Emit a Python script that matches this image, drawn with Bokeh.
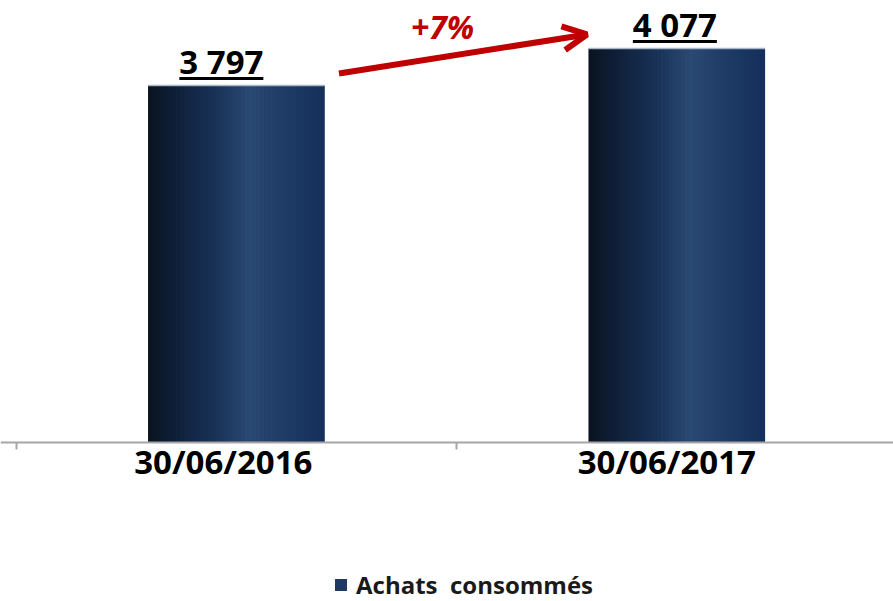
from bokeh.plotting import figure
from bokeh.models import Range1d, FixedTicker, Arrow, OpenHead, Legend, LegendItem
from bokeh.core.properties import value
from bokeh.embed import file_html
from bokeh.resources import INLINE

# ---- data ----
categories = ["30/06/2016", "30/06/2017"]
values = [3797, 4077]
value_labels = ["3 797", "4 077"]
series_name = "Achats  consommés"
axis_base = 1095          # value at which the category axis sits

# ---- geometry / style ----
W, H = 893, 601
AX_X, AX_Y = 15.6, 442    # px position of the axis origin inside the figure
cat_px = 440.5            # px per category
ux = 1.0 / cat_px
uy = 7.568                # value units per px
bar_w = 0.4
FONT = value("Open Sans")

x_range = Range1d(-AX_X * ux, (W - AX_X) * ux)
y_range = Range1d(axis_base - (H - AX_Y) * uy, axis_base + AX_Y * uy)

p = figure(width=W, height=H, output_backend="svg", toolbar_location=None,
           x_range=x_range, y_range=y_range,
           min_border_left=0, min_border_right=0, min_border_top=0,
           min_border_bottom=0)
p.outline_line_color = None
p.xgrid.visible = False
p.ygrid.visible = False
p.yaxis.visible = False
p.background_fill_color = "white"
p.border_fill_color = "white"

centers = [i + 0.5 for i in range(len(categories))]

# base bars (also legend renderer)
base = p.vbar(x=centers, width=bar_w, top=values, bottom=axis_base,
              fill_color="#1f3864", line_color=None)

# gradient slices
stops = [(0.0, "#0a121d"), (0.12, "#0e1c33"), (0.38, "#183156"),
         (0.58, "#2b4a73"), (0.70, "#22406a"), (1.0, "#15305a")]


def hex2rgb(h):
    return tuple(int(h[k:k + 2], 16) for k in (1, 3, 5))


def interp(t):
    for (t0, c0), (t1, c1) in zip(stops[:-1], stops[1:]):
        if t0 <= t <= t1:
            a, b = hex2rgb(c0), hex2rgb(c1)
            f = (t - t0) / (t1 - t0)
            return "#%02x%02x%02x" % tuple(round(a[k] + (b[k] - a[k]) * f) for k in range(3))
    return stops[-1][1]


N = 44
sx, st, sc = [], [], []
for c, v in zip(centers, values):
    for j in range(N):
        t = (j + 0.5) / N
        sx.append(c - bar_w / 2 + t * bar_w)
        st.append(v)
        sc.append(interp(t))
p.vbar(x=sx, width=bar_w / N * 1.08, top=st, bottom=axis_base,
       fill_color=sc, line_color=None)

# light top edge
p.segment(x0=[c - bar_w / 2 for c in centers], x1=[c + bar_w / 2 for c in centers],
          y0=values, y1=values, line_color="#a9b6c8", line_width=1.5)

# value labels, underlined
label_dx = [-15, -2]
p.text(x=centers, y=values, text=value_labels, x_offset=label_dx, y_offset=-24,
       text_align="center", text_baseline="middle", text_font=FONT,
       text_font_size="33px", text_font_style="bold", text_color="black")
half = 42 * ux
p.segment(x0=[c + d * ux - half for c, d in zip(centers, label_dx)],
          x1=[c + d * ux + half for c, d in zip(centers, label_dx)],
          y0=[v + 7 * uy for v in values], y1=[v + 7 * uy for v in values],
          line_color="black", line_width=3)

# growth arrow
red = "#c00000"
pct = round((values[1] / values[0] - 1) * 100)
p.add_layout(Arrow(end=OpenHead(size=24, line_width=6, line_color=red),
                   x_start=0.733, y_start=values[0] + 12 * uy,
                   x_end=1.296, y_end=values[1] + 14 * uy,
                   line_width=6, line_color=red))
p.text(x=[1.0], y=[values[1]], text=["+%d%%" % pct], x_offset=-14, y_offset=-22,
       text_align="center", text_baseline="middle", text_font=FONT,
       text_font_size="32px", text_font_style="bold italic", text_color=red)

# x axis (category labels at major ticks, boundary tick marks as minor ticks)
cat_label_dx = [-13, -10]
label_pos = [c + d * ux for c, d in zip(centers, cat_label_dx)]
ax = p.xaxis[0]
ax.fixed_location = axis_base
ax.ticker = FixedTicker(ticks=label_pos, minor_ticks=list(range(len(categories) + 1)))
ax.major_label_overrides = {x: cat for x, cat in zip(label_pos, categories)}
ax.axis_line_color = "#a6a6a6"
ax.axis_line_width = 2
ax.major_tick_line_color = None
ax.major_tick_in = 0
ax.major_tick_out = 0
ax.minor_tick_line_color = "#a6a6a6"
ax.minor_tick_line_width = 2
ax.minor_tick_in = 0
ax.minor_tick_out = 7
ax.major_label_standoff = -11
ax.major_label_text_font = "Open Sans"
ax.major_label_text_font_size = "33px"
ax.major_label_text_font_style = "bold"
ax.major_label_text_color = "black"

# legend (inside the frame, near the bottom)
legend = Legend(items=[LegendItem(label=series_name, renderers=[base])],
                location=(333, 0), orientation="horizontal",
                border_line_color=None, background_fill_alpha=0,
                padding=0, margin=0, spacing=0,
                glyph_width=15, glyph_height=15, label_standoff=8,
                label_text_font="Open Sans", label_text_font_size="24px",
                label_text_font_style="bold", label_text_color="#1a1a1a")
p.add_layout(legend)

open("out.html", "w").write(file_html(p, INLINE))
